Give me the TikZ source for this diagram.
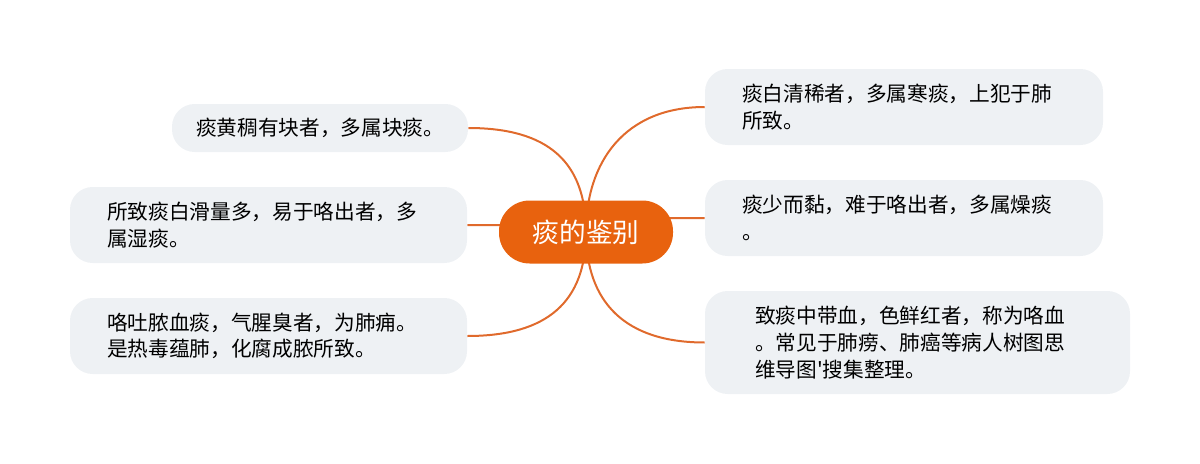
\documentclass[tikz,border=0pt]{standalone}
\usepackage{fontspec}
\newfontfamily\cjk{Noto Sans CJK SC}
\usetikzlibrary{positioning,backgrounds}
\definecolor{topicorange}{HTML}{E8620E}
\definecolor{branchorange}{HTML}{E06A2C}
\definecolor{leafgray}{HTML}{EEF1F4}

\begin{document}
\begin{tikzpicture}[x=0.75pt,y=-0.75pt,
  leaf/.style={fill=leafgray,rounded corners=17pt,align=left,inner ysep=0pt,font=\cjk\fontsize{15.5pt}{20pt}\selectfont},
  topic/.style={fill=topicorange,text=white,rounded corners=23pt,minimum width=130.5pt,minimum height=47.25pt,font=\cjk\fontsize{20pt}{24pt}\selectfont},
  branch/.style={draw=branchorange,line width=1.5pt}]
\useasboundingbox (0,0) rectangle (1200,464);
\node[topic](t) at (586,232){痰的鉴别};
\node[leaf,text width=186pt,inner xsep=18pt,minimum height=36pt](l1) at (320,128){痰黄稠有块者，多属块痰。};
\node[leaf,text width=242.25pt,inner xsep=27.75pt,minimum height=57pt](l2) at (268.5,225){所致痰白滑量多，易于咯出者，多\\属湿痰。};
\node[leaf,text width=242.25pt,inner xsep=27.75pt,minimum height=57pt](l3) at (268.5,336){咯吐脓血痰，气腥臭者，为肺痈。\\是热毒蕴肺，化腐成脓所致。};
\node[leaf,text width=243pt,inner xsep=27.75pt,minimum height=57pt](r1) at (904,107){痰白清稀者，多属寒痰，上犯于肺\\所致。};
\node[leaf,text width=243pt,inner xsep=27.75pt,minimum height=57pt](r2) at (904,218){痰少而黏，难于咯出者，多属燥痰\\。};
\node[leaf,text width=243.75pt,inner xsep=37.5pt,minimum height=77.25pt](r3) at (917.5,342.5){致痰中带血，色鲜红者，称为咯血\\。常见于肺痨、肺癌等病人树图思\\维导图'搜集整理。};
\begin{scope}[on background layer]
\draw[branch](l1.east)..controls +(80,0) and +(0,-70)..(t.center)
  (t.center)..controls +(0,-70) and +(-80,0)..(r1.west)
  (t.center)..controls +(0,70) and +(80,0)..(l3.east)
  (t.center)..controls +(0,70) and +(-80,0)..(r3.west)
  (l2.east)--(l2.east-|t.center)
  (r2.west-|t.center)--(r2.west);
\end{scope}
\end{tikzpicture}
\end{document}
